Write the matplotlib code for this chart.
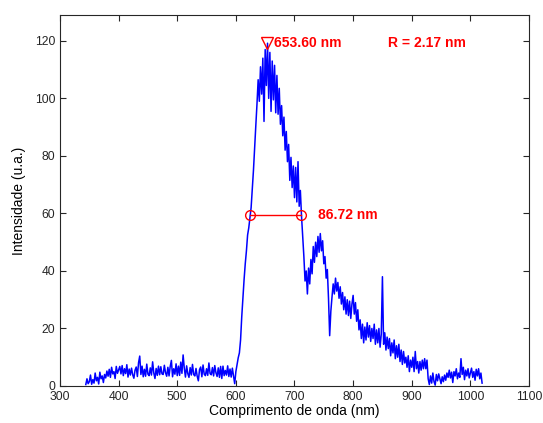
import numpy as np
import matplotlib
matplotlib.use("Agg")
import matplotlib.pyplot as plt

# spectrum, one value every 2 nm from 344 nm
start_nm = 344
step_nm = 2
intensity = [
    0.5, 2.5, 0.8, 1.5, 3.8, 0.6, 2.2, 1.0, 4.5, 1.8,
    3.0, 0.7, 4.8, 2.5, 3.5, 1.2, 4.0, 2.8, 5.2, 3.4,
    5.8, 3.0, 6.5, 4.2, 5.0, 2.6, 6.8, 4.4, 5.6, 6.8,
    4.2, 7.1, 3.6, 6.0, 4.3, 7.4, 3.1, 5.9, 3.8, 6.2,
    3.9, 2.7, 5.5, 6.6, 3.3, 8.1, 10.4, 4.0, 6.9, 3.2,
    5.8, 3.4, 7.6, 4.1, 3.6, 6.3, 3.8, 8.4, 4.5, 2.6,
    6.1, 3.7, 6.9, 3.9, 6.7, 4.2, 4.0, 7.2, 4.6, 3.4,
    6.5, 3.5, 6.8, 8.9, 3.2, 6.0, 4.1, 7.7, 3.6, 6.9,
    3.7, 8.3, 4.4, 10.8, 6.2, 3.1, 7.0, 4.3, 3.0, 6.4,
    3.8, 7.5, 4.0, 3.5, 6.1, 3.4, 1.8, 5.7, 6.6, 3.2,
    7.3, 4.1, 3.6, 6.0, 3.7, 8.0, 4.3, 3.9, 6.4, 3.5,
    7.1, 4.6, 3.3, 6.3, 3.0, 6.8, 2.6, 6.9, 3.6, 5.4,
    3.8, 7.0, 3.3, 5.9, 3.1, 6.2, 3.5, 0.8, 5.0, 7.5,
    9.8, 11.5, 16.0, 24.0, 30.5, 37.0, 42.5, 47.0, 52.5, 55.0,
    58.5, 62.0, 68.5, 75.0, 83.0, 90.5, 98.0, 106.5, 99.0, 111.0,
    101.5, 114.0, 92.0, 117.0, 104.5, 119.2, 100.0, 116.0, 95.5, 113.0,
    99.5, 111.5, 95.0, 108.0, 94.5, 103.5, 91.0, 97.5, 87.0, 93.5,
    82.0, 88.5, 78.0, 84.0, 71.5, 79.5, 69.0, 76.5, 65.5, 76.0,
    64.0, 78.0, 62.5, 68.0, 59.0, 52.0, 45.0, 36.5, 40.0, 32.0,
    41.0, 35.5, 44.0, 39.0, 48.5, 43.0, 50.0, 45.0, 52.0, 46.5,
    53.0, 47.0, 50.5, 42.5, 45.0, 37.5, 40.5, 30.5, 17.5, 26.0,
    31.0, 35.5, 32.0, 37.5, 33.0, 36.0, 30.5, 34.5, 28.5, 32.5,
    26.5, 31.0, 25.0, 30.0, 24.5, 29.5, 23.5, 28.5, 31.5, 25.0,
    29.0, 22.5, 26.5, 19.5, 23.0, 16.5, 21.5, 15.0, 20.5, 16.0,
    22.0, 17.0, 21.0, 15.5, 20.0, 16.5, 21.5, 14.5, 19.5, 15.0,
    20.0, 13.5, 18.0, 38.0, 14.5, 18.5, 12.5, 17.0, 13.0, 16.5,
    10.5, 15.0, 11.5, 16.0, 9.5, 14.0, 10.0, 14.5, 8.5, 12.5,
    7.5, 12.0, 8.0, 10.0, 6.5, 10.5, 5.0, 9.0, 6.5, 10.0,
    5.0, 12.0, 6.0, 8.5, 4.5, 8.5, 5.5, 9.0, 6.0, 9.5,
    6.0, 9.0, 2.5, 0.5, 3.5, 1.0, 4.5, 1.5, 0.3, 4.0,
    1.8, 4.2, 2.5, 0.8, 3.2, 1.5, 3.8, 2.0, 4.5, 3.0,
    5.5, 2.8, 4.8, 1.2, 5.0, 3.5, 6.0, 2.5, 4.5, 3.0,
    9.5, 4.0, 6.5, 2.2, 5.5, 3.5, 6.0, 2.8, 4.5, 6.2,
    3.0, 5.0, 2.0, 5.8, 3.5, 6.0, 2.5, 4.5, 1.0,
]
wavelength = start_nm + step_nm * np.arange(len(intensity))

peak_nm = 653.60
peak_val = 119.2
half_left = 624.6
half_right = 711.32
half_val = 59.6
fwhm = 86.72
resolution = 2.17

plt.rcParams["font.family"] = ["Liberation Sans", "DejaVu Sans"]

fig = plt.figure(figsize=(5.43, 4.23), dpi=100)
ax = fig.add_axes([0.1105, 0.0875, 0.8637, 0.877])

ax.plot(wavelength, intensity, color="#0000ff", lw=1.1)
ax.plot([half_left, half_right], [half_val, half_val], color="red", lw=1,
        marker="o", mfc="none", mec="red", ms=7)
ax.plot(peak_nm, peak_val, marker="v", mfc="none", mec="red", ms=8, ls="none")

ax.text(peak_nm + 12, peak_val, "%.2f nm" % peak_nm, color="red",
        fontsize=10, fontweight="bold", va="center")
ax.text(860, peak_val, "R = %.2f nm" % resolution, color="red",
        fontsize=10, fontweight="bold", va="center")
ax.text(half_right + 28, half_val, "%.2f nm" % fwhm, color="red",
        fontsize=10, fontweight="bold", va="center")

ax.set_xlim(300, 1100)
ax.set_ylim(0, 129)
ax.set_xticks(range(300, 1101, 100))
ax.set_yticks(range(0, 121, 20))
ax.tick_params(direction="in", top=True, right=True, length=4,
               labelsize=8.7, colors="#262626")
for s in ax.spines.values():
    s.set_color("#262626")
    s.set_linewidth(0.8)

ax.set_xlabel("Comprimento de onda (nm)", fontsize=10, labelpad=1)
ax.set_ylabel("Intensidade (u.a.)", fontsize=10, labelpad=6)

fig.savefig("out.png", dpi=100)
